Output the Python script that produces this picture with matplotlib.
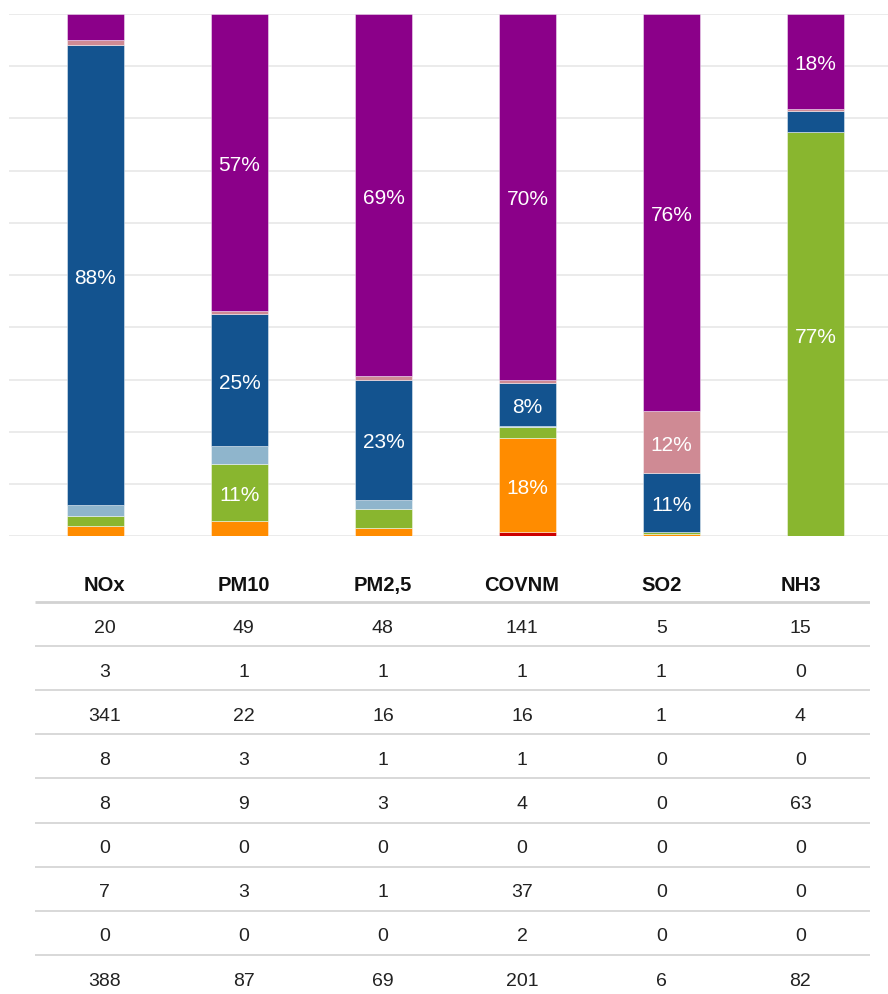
import matplotlib
matplotlib.use("Agg")
import matplotlib.pyplot as plt
import numpy as np

plt.rcParams['font.family'] = ['Liberation Sans', 'DejaVu Sans']

# ---- data ----
pollutants = ["NOx", "PM10", "PM2,5", "COVNM", "SO2", "NH3"]

# chart shares (%), stack order top -> bottom
share_purple    = [5.0, 56.9, 69.4, 70.0, 76.1, 18.2]
share_pink      = [1.0, 0.6, 0.7, 0.7, 11.7, 0.3]
share_darkblue  = [88.0, 25.3, 22.9, 8.1, 11.3, 4.1]
share_lightblue = [2.1, 3.3, 1.7, 0.2, 0.0, 0.0]
share_green     = [2.0, 11.0, 3.7, 2.2, 0.5, 77.4]
share_other     = [0.0, 0.0, 0.0, 0.0, 0.0, 0.0]
share_orange    = [1.9, 2.9, 1.6, 18.0, 0.4, 0.0]
share_red       = [0.0, 0.0, 0.0, 0.8, 0.0, 0.0]

# table values (rows top -> bottom, last row = total)
row1 = [20, 49, 48, 141, 5, 15]
row2 = [3, 1, 1, 1, 1, 0]
row3 = [341, 22, 16, 16, 1, 4]
row4 = [8, 3, 1, 1, 0, 0]
row5 = [8, 9, 3, 4, 0, 63]
row6 = [0, 0, 0, 0, 0, 0]
row7 = [7, 3, 1, 37, 0, 0]
row8 = [0, 0, 0, 2, 0, 0]
total = [388, 87, 69, 201, 6, 82]

# ---- styles ----
series_bottom_up = [
    (share_red, "#cc0000"),
    (share_orange, "#ff8c00"),
    (share_other, "#f2c500"),
    (share_green, "#89b62f"),
    (share_lightblue, "#8fb5cc"),
    (share_darkblue, "#13538f"),
    (share_pink, "#cf8a94"),
    (share_purple, "#8b0089"),
]

W, H, DPI = 888, 995, 100
fig = plt.figure(figsize=(W / DPI, H / DPI), dpi=DPI)

# chart axes
ax = fig.add_axes([9 / W, 1 - 537.3 / H, 1 - 9 / W, (537.3 - 15) / H])
x = np.arange(len(pollutants))
stack = np.array([s for s, _ in series_bottom_up], dtype=float)
stack = stack / stack.sum(axis=0) * 100
bottom = np.zeros(len(pollutants))
for vals, (_, col) in zip(stack, series_bottom_up):
    ax.bar(x, vals, 0.4, bottom=bottom, color=col, edgecolor=(1, 1, 1, 0.6),
           linewidth=0.5, zorder=3)
    for i, v in enumerate(vals):
        if v >= 7.5:
            ax.text(x[i], bottom[i] + v / 2, f"{v:.0f}%", ha="center",
                    va="center_baseline", color="white", fontsize=15, zorder=4)
    bottom += vals

ax.set_xlim(-(95.5 - 9) / 144, 5 + (888 - 815.5) / 144)
ax.set_ylim(0, 100)
ax.set_yticks(np.arange(0, 101, 10))
ax.grid(axis="y", color="#e6e6e6", linewidth=1.1, zorder=0)
ax.set_xticks([])
ax.tick_params(left=False, labelleft=False)
for sp in ax.spines.values():
    sp.set_visible(False)
ax.set_facecolor("none")

# table axes
top_px, bot_px = 560, 995
row_h = 44.05
r0 = 625.3
tx = fig.add_axes([35 / W, 0, (870 - 35) / W, (H - top_px) / H])
tx.set_xlim(0, 6)
tx.set_ylim((bot_px - r0) / row_h, (top_px - r0) / row_h)
tx.axis("off")

rows = [row1, row2, row3, row4, row5, row6, row7, row8, total]
for j, name in enumerate(pollutants):
    tx.text(j + 0.5, -0.96, name, ha="center", va="center_baseline", fontsize=14.5,
            fontweight="bold", color="#111111")
for r, vals in enumerate(rows):
    for j, v in enumerate(vals):
        tx.text(j + 0.5, r + 0.03, f"{v}", ha="center", va="center_baseline",
                fontsize=14, color="#222222")
for k in range(len(rows)):
    tx.plot([0, 6], [k - 0.5, k - 0.5], color="#d2d2d2",
            linewidth=2.0 if k == 0 else 1.2, solid_capstyle="butt")

fig.savefig("out.png", dpi=DPI)
